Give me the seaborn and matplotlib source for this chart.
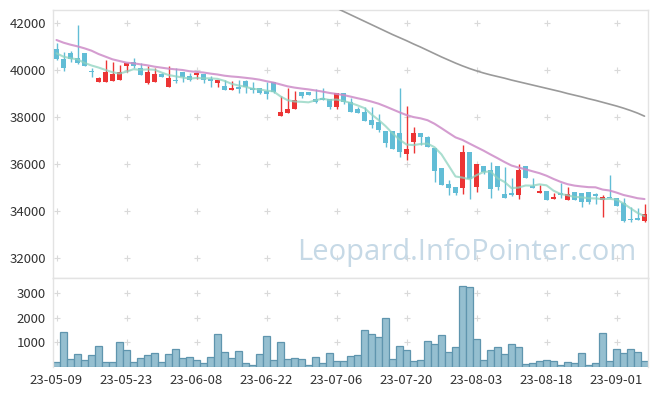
import numpy as np
import pandas as pd
import matplotlib
matplotlib.use('Agg')
import matplotlib.pyplot as plt
import seaborn as sns

# daily OHLC (2023-05-09 .. 2023-09-07, trading days)
open_ = [40880, 40450, 40720, 40510, 40690, 39950, 39490, 39490, 39540, 39580,
         40170, 40330, 40060, 39420, 39490, 39820, 39280, 39530, 39900, 39730,
         39780, 39810, 39610, 39450, 39310, 39150, 39230, 39520, 39240, 39210,
         39100, 39460, 38050, 38180, 38320, 39040, 39040, 38760, 38810, 38760,
         38430, 39000, 38620, 38340, 38210, 37870, 37780, 37400, 37400, 37300,
         36440, 36950, 37330, 37160, 36670, 35850, 35160, 35040, 35000, 36500,
         35040, 35910, 35750, 35920, 34720, 34760, 34690, 35920, 35090, 34790,
         34860, 34500, 34760, 34490, 34830, 34780, 34800, 34730, 34490, 34590,
         34550, 34340, 33660, 33700, 33600]
high = [41120, 40760, 40790, 41890, 40700, 40060, 39700, 40410, 40310, 40200,
        40300, 40510, 40270, 40170, 40060, 39880, 40170, 40060, 39900, 39850,
        39850, 39810, 39740, 39560, 39560, 39500, 39560, 39560, 39490, 39230,
        39490, 39490, 38890, 39210, 39100, 39040, 39040, 39180, 39210, 38760,
        39000, 39000, 38780, 38400, 38400, 38400, 38110, 37400, 37400, 39210,
        38480, 37590, 37330, 37200, 36670, 35850, 35330, 35040, 36810, 36500,
        36000, 35910, 36100, 35920, 35860, 35400, 35990, 35920, 35430, 35120,
        34860, 34790, 35190, 35040, 34830, 34780, 34830, 34760, 34690, 35540,
        34580, 34550, 34160, 34130, 34300]
low = [40400, 39950, 40340, 40260, 40150, 39700, 39490, 39480, 39520, 39560,
       39920, 40060, 39780, 39400, 39490, 39680, 39280, 39420, 39480, 39520,
       39610, 39450, 39280, 39250, 39140, 39150, 39000, 39030, 39030, 38970,
       38750, 39030, 38040, 38180, 38320, 38800, 38930, 38580, 38700, 38320,
       38320, 38560, 38220, 38150, 37840, 37520, 37370, 36740, 36650, 36290,
       36170, 36460, 36810, 36740, 35230, 35120, 34680, 34690, 34720, 34520,
       34830, 35570, 34550, 34900, 34550, 34650, 34510, 35400, 35000, 34790,
       34480, 34500, 34550, 34490, 34490, 34180, 34300, 34300, 33770, 34550,
       34240, 33530, 33560, 33630, 33530]
close = [40440, 40090, 40440, 40300, 40170, 39890, 39660, 39920, 39820, 39890,
         40300, 40170, 39780, 39920, 39820, 39710, 39640, 39510, 39670, 39570,
         39850, 39560, 39520, 39560, 39140, 39230, 39200, 39250, 39140, 39000,
         38970, 39040, 38190, 38340, 38720, 38900, 38930, 38620, 38700, 38430,
         39000, 38610, 38220, 38180, 37840, 37670, 37450, 36910, 36650, 36490,
         36640, 37330, 37140, 36740, 35720, 35120, 35000, 34790, 36500, 35370,
         35990, 35650, 34950, 35040, 34580, 34690, 35750, 35400, 35000, 34860,
         34480, 34620, 34690, 34750, 34490, 34410, 34410, 34650, 34610, 34550,
         34240, 33600, 33630, 33630, 33870]
volume = [203, 1419, 324, 527, 284, 486, 851, 203, 203, 1014,
          689, 203, 365, 486, 568, 203, 527, 730, 365, 405,
          284, 162, 405, 1338, 608, 365, 649, 162, 81, 527,
          1257, 284, 1014, 324, 365, 324, 81, 405, 162, 568,
          243, 243, 446, 486, 1500, 1338, 1216, 1986, 324, 851,
          689, 243, 284, 1054, 932, 1297, 608, 811, 3284, 3243,
          1135, 284, 689, 811, 527, 932, 811, 122, 162, 243,
          284, 243, 81, 203, 162, 568, 81, 162, 1378, 243,
          730, 568, 730, 608, 243]

# moving averages before enough history exists
ma5_head = [40694, 40552, 40482, 40440]
ma20_head = [41258, 41145, 41060, 40990, 40905, 40806, 40665, 40552, 40439, 40368,
             40298, 40270, 40227, 40185, 40128, 40086, 40044, 40015, 39987]
# long moving average, visible from bar 40 onward
ma_long_start = 40
ma_long = [42610, 42470, 42330, 42190, 42050, 41910, 41770, 41630, 41490, 41360,
           41230, 41090, 40960, 40820, 40680, 40540, 40410, 40280, 40160, 40050,
           39950, 39860, 39780, 39710, 39640, 39560, 39490, 39420, 39350, 39280,
           39210, 39140, 39070, 38990, 38920, 38850, 38770, 38700, 38620, 38540,
           38460, 38370, 38270, 38160, 38030]

tick_labels = ['23-05-09', '23-05-23', '23-06-08', '23-06-22', '23-07-06',
               '23-07-20', '23-08-03', '23-08-18', '23-09-01']
price_ticks = [32000, 34000, 36000, 38000, 40000, 42000]
vol_ticks = [1000, 2000, 3000]

UP = '#ec3434'
DOWN = '#62bdd6'
GRID = '#d9d9d9'
SPINE = '#e3e3e3'

sns.set_theme(style='white')
plt.rcParams['font.family'] = ['Noto Sans CJK KR', 'DejaVu Sans']

df = pd.DataFrame({'open': open_, 'high': high, 'low': low,
                   'close': close, 'volume': volume})
df['x'] = np.arange(len(df))
ma5 = df['close'].rolling(5).mean()
ma5.iloc[:len(ma5_head)] = ma5_head
ma20 = df['close'].rolling(20).mean()
ma20.iloc[:len(ma20_head)] = ma20_head
df['ma5'] = ma5
df['ma20'] = ma20
long_df = pd.DataFrame({'x': np.arange(ma_long_start, ma_long_start + len(ma_long)),
                        'ma': ma_long})

fig = plt.figure(figsize=(6.57, 3.96), dpi=100)
ax = fig.add_axes([53 / 657, 1 - 278 / 396, 595 / 657, 268 / 396])
axv = fig.add_axes([53 / 657, 1 - 367 / 396, 595 / 657, 89 / 396], sharex=ax)

# candles
up = df['close'] >= df['open']
colors = np.where(up, UP, DOWN)
body_lo = np.minimum(df['open'], df['close'])
body_h = np.maximum((df['close'] - df['open']).abs(), 45)
ax.vlines(df['x'], df['low'], df['high'], colors=colors, linewidth=1.0, zorder=2)
ax.bar(df['x'], body_h, bottom=body_lo, width=0.72, color=colors, linewidth=0, zorder=3)

# moving averages
sns.lineplot(data=df, x='x', y='ma5', ax=ax, color='#8ed3c0', linewidth=1.5,
             alpha=0.75, sort=False, estimator=None, zorder=4)
sns.lineplot(data=df, x='x', y='ma20', ax=ax, color='#cd8cc8', linewidth=1.5,
             alpha=0.85, sort=False, estimator=None, zorder=4)
sns.lineplot(data=long_df, x='x', y='ma', ax=ax, color='#9a9a9a', linewidth=1.2,
             sort=False, estimator=None, zorder=4)

ax.text(0.696, 0.095, 'Leopard.InfoPointer.com', transform=ax.transAxes,
        ha='center', va='center', fontsize=21, color='#c6d9e6',
        family=['Open Sans', 'DejaVu Sans'], zorder=1)

# volume
sns.barplot(data=df, x='x', y='volume', ax=axv, width=1.0, color='#95bfd0',
            edgecolor='#5f95ae', linewidth=0.9, saturation=1, native_scale=True)

tick_pos = np.arange(0, len(tick_labels) * 10, 10)
gx, gy = np.meshgrid(tick_pos, price_ticks)
ax.scatter(gx.ravel(), gy.ravel(), marker='+', s=18, color=GRID, linewidths=0.8, zorder=0)
gx, gy = np.meshgrid(tick_pos, vol_ticks)
axv.scatter(gx.ravel(), gy.ravel(), marker='+', s=18, color=GRID, linewidths=0.8, zorder=0)

ax.set_xlim(-0.5, len(df) - 0.5)
ax.set_ylim(31170, 42530)
axv.set_ylim(0, 3620)

ax.set_yticks(price_ticks)
ax.set_yticklabels([str(v) for v in price_ticks])
axv.set_yticks(vol_ticks)
axv.set_yticklabels([str(v) for v in vol_ticks])
axv.set_xticks(tick_pos)
axv.set_xticklabels(tick_labels)
ax.tick_params(axis='x', labelbottom=False, length=0)
for a in (ax, axv):
    a.tick_params(axis='both', length=0, labelsize=9.5, labelcolor='#333333', pad=5)
    a.set_xlabel('')
    a.set_ylabel('')
    a.grid(False)
    for side, sp in a.spines.items():
        sp.set_color(SPINE)
        sp.set_linewidth(1.0)
axv.spines['bottom'].set_visible(False)

fig.savefig('out.png', dpi=100)
